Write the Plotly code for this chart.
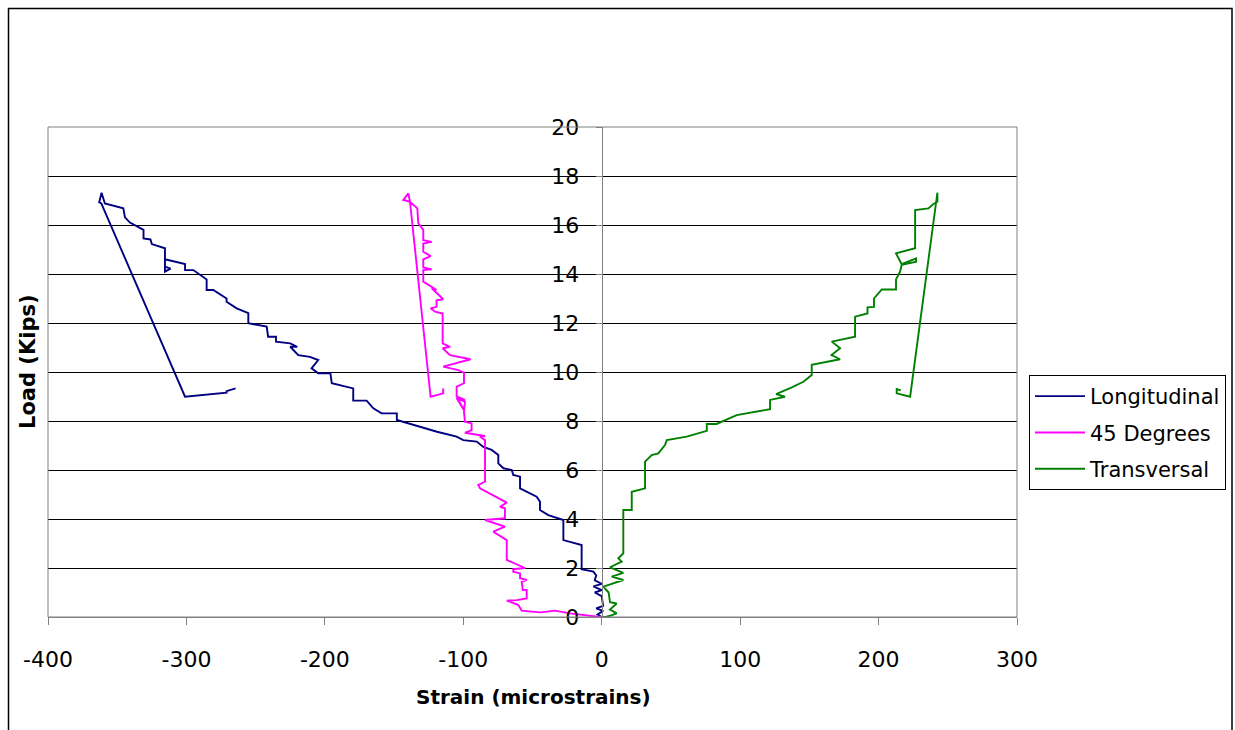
import plotly.graph_objects as go

# ---------------- data ----------------
long_x = [0, -3, 1, -4, 1, 0, -5, 0, -6, 0, -5, -4, -6, -14.5, -14.5, -22, -27.7, -27.7,
          -38.6, -44.6, -44.6, -47, -59, -59, -63.9, -65, -71, -74.7, -74.7, -79.5, -85.5,
          -90.3, -100, -104.8, -119, -148, -148, -159, -165, -169.8, -179.5, -179.5, -195,
          -196, -204.8, -209.6, -204.8, -210.8, -219.2, -225, -220, -225, -235.3, -235.3,
          -241, -242, -255.3, -255.3, -263.7, -271, -271, -280.6, -285.4, -285.4, -295,
          -301, -301, -315.5, -315.5, -311.5, -315.5, -315.5, -325, -326, -331, -331,
          -340.8, -344.4, -345.6, -358.9, -361.3, -363, -361.5, -301, -271, -271, -264.5]
long_y = [0, 0.1, 0.25, 0.35, 0.45, 0.85, 1.0, 1.1, 1.25, 1.35, 1.5, 1.7, 1.85, 1.95, 2.94,
          3.05, 3.14, 3.96, 4.16, 4.37, 4.71, 4.91, 5.25, 5.73, 5.8, 6.0, 6.07, 6.27, 6.61,
          6.82, 6.94, 7.16, 7.22, 7.36, 7.56, 8.04, 8.31, 8.31, 8.52, 8.83, 8.83, 9.33, 9.54,
          9.95, 9.95, 10.15, 10.49, 10.62, 10.69, 11.03, 11.03, 11.17, 11.24, 11.44, 11.44,
          11.85, 11.99, 12.4, 12.6, 12.87, 13.0, 13.35, 13.35, 13.78, 14.16, 14.16, 14.41,
          14.6, 14.1, 14.22, 14.3, 15.05, 15.22, 15.41, 15.45, 15.8, 16.1, 16.31, 16.68,
          16.88, 17.32, 16.93, 16.88, 8.99, 9.16, 9.22, 9.33]

deg45_x = [0, -1.2, -22.9, -33.7, -44.6, -57.8, -60.2, -65, -68.6, -61.4, -54.2, -54.2, -57,
           -57.8, -54.2, -59, -59, -63.9, -63.9, -55.4, -66.3, -68.6, -68.6, -78.3, -69.9,
           -84.3, -69.9, -69.9, -73.5, -68.6, -87.9, -89.2, -84.3, -84.3, -88, -84.3, -98.8,
           -94, -94, -98.8, -99.5, -98.8, -104.8, -99.5, -103.6, -98.8, -104.8, -104.8,
           -99.5, -99.5, -103.6, -114.5, -94.7, -109.6, -114.9, -109.6, -114.9, -114.9,
           -120.4, -123.6, -119.3, -119.3, -114.5, -122.8, -119.3, -128.9, -128.9, -122.8,
           -128.9, -128.9, -123.6, -128.9, -128.9, -122.8, -128.9, -128.9, -132.5, -133.2,
           -138.5, -139.7, -143.3, -138.5, -123.6, -114.5, -114.5]
deg45_y = [0, 0, 0.15, 0.26, 0.19, 0.26, 0.49, 0.58, 0.67, 0.69, 0.76, 1.1, 1.1, 1.44, 1.51,
           1.58, 1.78, 1.85, 1.95, 2.0, 2.26, 2.33, 3.14, 3.48, 3.69, 3.96, 4.03, 4.44, 4.5,
           4.67, 5.25, 5.39, 5.52, 7.22, 7.36, 7.39, 7.52, 7.63, 7.9, 7.97, 8.38, 8.79, 8.93,
           8.45, 8.86, 8.86, 9.0, 9.4, 9.54, 9.97, 10.08, 10.22, 10.52, 10.69, 10.97, 11.03,
           11.17, 12.39, 12.46, 12.6, 12.66, 12.93, 12.97, 13.42, 13.35, 13.69, 14.16, 14.19,
           14.27, 14.6, 14.73, 14.91, 15.24, 15.31, 15.38, 15.8, 16.07, 16.68, 16.95, 17.29,
           17.02, 16.95, 8.99, 9.13, 9.33]

trans_x = [0, 3, 6, 10.8, 6, 10.8, 6, 5, 1.2, 15.6, 7.2, 15.6, 6, 14.4, 12, 15.6, 15.6, 21.7,
           21.7, 31.3, 31.3, 36.1, 40.9, 45.7, 47, 61.4, 75.9, 75.9, 83, 90.3, 97.5, 121.6,
           121.6, 132.4, 126, 137.3, 145.7, 151.7, 151.7, 172.2, 166, 172.2, 166.2, 183, 183,
           192, 192, 196.7, 196.7, 202.3, 212.6, 212.6, 215.5, 216.7, 227.1, 227.1, 216.7,
           212.6, 226.4, 226.4, 236, 239.6, 242.5, 242.5, 241.5, 222.8, 213.1, 213.1, 216]
trans_y = [0, 0, 0.05, 0.15, 0.3, 0.55, 0.6, 1.0, 1.24, 1.51, 1.65, 1.8, 2.03, 2.26, 2.4, 2.6,
           4.37, 4.37, 5.11, 5.25, 6.34, 6.61, 6.68, 7.02, 7.22, 7.36, 7.6, 7.88, 7.88, 8.07,
           8.24, 8.48, 8.86, 8.99, 9.1, 9.37, 9.6, 9.88, 10.29, 10.52, 10.69, 10.97, 11.24,
           11.44, 12.26, 12.39, 12.64, 12.66, 13.0, 13.37, 13.37, 13.78, 14.09, 14.37, 14.5,
           14.64, 14.4, 14.84, 15.05, 16.61, 16.68, 16.86, 16.95, 17.32, 16.9, 8.99, 9.13,
           9.3, 9.25]

series_names = ["Longitudinal", "45 Degrees", "Transversal"]
series_colors = ["#000080", "#FF00FF", "#008000"]

x_ticks = [-400, -300, -200, -100, 0, 100, 200, 300]
y_ticks = [0, 2, 4, 6, 8, 10, 12, 14, 16, 18, 20]

# ---------------- figure ----------------
W, H = 1235, 730
L, R, T, B = 48, 218, 127, 113
pw, ph = W - L - R, H - T - B

def px_x(p):
    return (p - L) / pw

def px_y(p):
    return (H - B - p) / ph

FONT = "DejaVu Sans"

fig = go.Figure()
for i, (xs, ys) in enumerate([(long_x, long_y), (deg45_x, deg45_y), (trans_x, trans_y)]):
    fig.add_trace(go.Scatter(x=xs, y=ys, mode="lines", name=series_names[i],
                             legendgroup=series_names[i],
                             line=dict(color=series_colors[i], width=1.9)))

fig.update_layout(
    width=W, height=H,
    margin=dict(l=L, r=R, t=T, b=B, pad=0, autoexpand=False),
    paper_bgcolor="white", plot_bgcolor="white",
    font=dict(family=FONT, size=22, color="black"),
    showlegend=True,
    legend=dict(x=px_x(1029), y=px_y(375), xanchor="left", yanchor="top",
                bordercolor="black", borderwidth=1, bgcolor="white",
                font=dict(family=FONT, size=21, color="black"),
                tracegroupgap=6, itemwidth=50),
    xaxis=dict(range=[-400, 300], tickvals=x_ticks, ticktext=[str(v) for v in x_ticks],
               showgrid=False, zeroline=False, showline=True, linecolor="#808080",
               linewidth=1, ticks="outside", ticklen=7, tickcolor="#808080",
               ticklabelstandoff=16, tickfont=dict(family=FONT, size=22)),
    yaxis=dict(range=[0, 20], tickvals=y_ticks, ticktext=[str(v) for v in y_ticks],
               anchor="free", position=400 / 700,
               showgrid=True, gridcolor="black", gridwidth=1, zeroline=False,
               showline=True, linecolor="#808080", linewidth=1,
               ticks="outside", ticklen=6, tickcolor="#808080",
               ticklabelstandoff=12, tickfont=dict(family=FONT, size=22)),
)

# plot area border (gray) and outer chart border (black)
fig.add_shape(type="rect", xref="paper", yref="paper", x0=0, x1=1, y0=0, y1=1,
              line=dict(color="#808080", width=1), layer="above")
fig.add_shape(type="rect", xref="paper", yref="paper",
              x0=px_x(8.5), x1=px_x(1232), y0=px_y(745), y1=px_y(8.5),
              line=dict(color="black", width=1.5), layer="above")

# axis titles
fig.add_annotation(text="<b>Strain (microstrains)</b>", xref="paper", yref="paper",
                   x=px_x(533), y=px_y(697), showarrow=False, xanchor="center",
                   yanchor="middle", font=dict(family=FONT, size=20, color="black"))
fig.add_annotation(text="<b>Load (Kips)</b>", xref="paper", yref="paper",
                   x=px_x(28), y=px_y(362), showarrow=False, xanchor="center",
                   yanchor="middle", textangle=-90,
                   font=dict(family=FONT, size=21, color="black"))

fig.write_html("out.html")
